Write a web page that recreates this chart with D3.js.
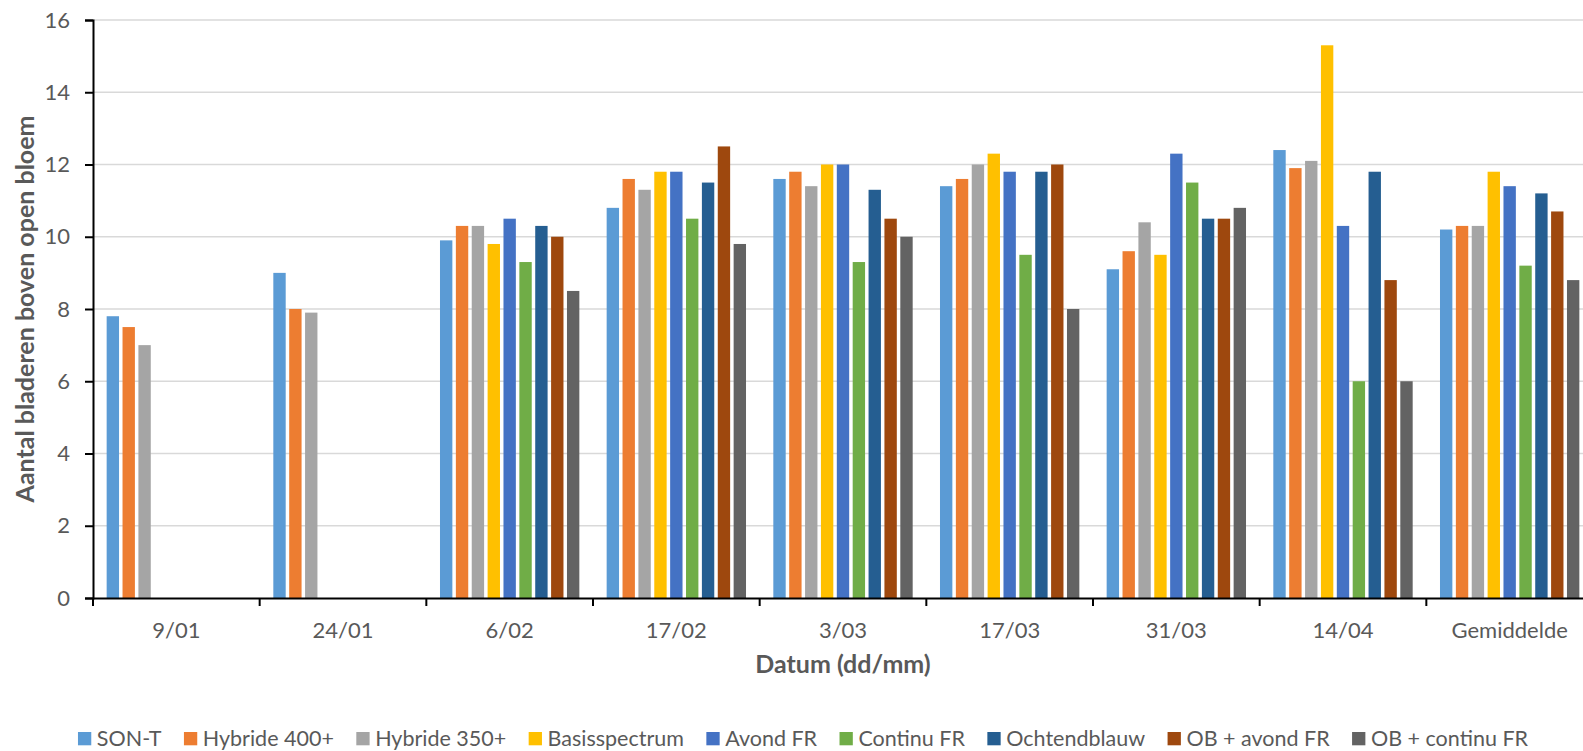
<!DOCTYPE html>
<html>
<head>
<meta charset="utf-8">
<script src="https://cdn.jsdelivr.net/npm/d3@7"></script>
<style>
  html, body { margin: 0; padding: 0; background: #fff; }
  svg { display: block; font-family: Lato, "Open Sans", sans-serif; }
</style>
</head>
<body>
<svg id="chart" width="1583" height="751"></svg>
<script>
// Categories (dates) and treatments
const categories = ["9/01", "24/01", "6/02", "17/02", "3/03", "17/03", "31/03", "14/04", "Gemiddelde"];
const seriesNames = ["SON-T", "Hybride 400+", "Hybride 350+", "Basisspectrum", "Avond FR",
                     "Continu FR", "Ochtendblauw", "OB + avond FR", "OB + continu FR"];
const seriesColors = ["#5B9BD5", "#ED7D31", "#A5A5A5", "#FFC000", "#4472C4",
                      "#70AD47", "#255E91", "#9E480E", "#636363"];

// Number of leaves above the open flower, per treatment, per date (null = no measurement)
const sonT          = [7.8, 9.0, 9.9, 10.8, 11.6, 11.4, 9.1, 12.4, 10.2];
const hybride400    = [7.5, 8.0, 10.3, 11.6, 11.8, 11.6, 9.6, 11.9, 10.3];
const hybride350    = [7.0, 7.9, 10.3, 11.3, 11.4, 12.0, 10.4, 12.1, 10.3];
const basisspectrum = [null, null, 9.8, 11.8, 12.0, 12.3, 9.5, 15.3, 11.8];
const avondFR       = [null, null, 10.5, 11.8, 12.0, 11.8, 12.3, 10.3, 11.4];
const continuFR     = [null, null, 9.3, 10.5, 9.3, 9.5, 11.5, 6.0, 9.2];
const ochtendblauw  = [null, null, 10.3, 11.5, 11.3, 11.8, 10.5, 11.8, 11.2];
const obAvondFR     = [null, null, 10.0, 12.5, 10.5, 12.0, 10.5, 8.8, 10.7];
const obContinuFR   = [null, null, 8.5, 9.8, 10.0, 8.0, 10.8, 6.0, 8.8];

const yTicks = [0, 2, 4, 6, 8, 10, 12, 14, 16];

const seriesValues = [sonT, hybride400, hybride350, basisspectrum, avondFR,
                      continuFR, ochtendblauw, obAvondFR, obContinuFR];

const svg = d3.select("#chart");
const textColor = "#595959";
const tickFont = 22;
const legendFont = 21.5;
const titleFont = 25;

const plot = { left: 93, right: 1593, top: 20, bottom: 598 };

const x0 = d3.scaleBand().domain(categories).range([plot.left, plot.right]).padding(0);
const x1 = d3.scaleBand().domain(seriesNames).range([0, x0.bandwidth()])
  .paddingInner(0).paddingOuter(0.75);
const y = d3.scaleLinear().domain([0, 16]).range([plot.bottom, plot.top]);

// Horizontal gridlines
svg.append("g")
  .selectAll("line")
  .data(yTicks.filter(t => t > 0))
  .join("line")
  .attr("x1", plot.left).attr("x2", 1583)
  .attr("y1", d => y(d)).attr("y2", d => y(d))
  .attr("stroke", "#d9d9d9").attr("stroke-width", 1.5);

// Bars
const barGap = 3.5;
const groups = svg.append("g")
  .selectAll("g")
  .data(categories)
  .join("g")
  .attr("transform", d => `translate(${x0(d)},0)`);

groups.selectAll("rect")
  .data((c, ci) => seriesNames.map((s, si) => ({ s, si, v: seriesValues[si][ci] }))
    .filter(d => d.v != null))
  .join("rect")
  .attr("x", d => x1(d.s) + barGap / 2)
  .attr("width", x1.bandwidth() - barGap)
  .attr("y", d => y(d.v))
  .attr("height", d => y(0) - y(d.v))
  .attr("fill", d => seriesColors[d.si]);

// Y axis
const yAxis = svg.append("g")
  .attr("transform", `translate(${plot.left},0)`)
  .call(d3.axisLeft(y).tickValues(yTicks).tickSize(8).tickPadding(15).tickFormat(d3.format("d")));
yAxis.select(".domain").attr("stroke", "#000").attr("stroke-width", 2);
yAxis.selectAll(".tick line").attr("stroke", "#000").attr("stroke-width", 2);
yAxis.selectAll(".tick text")
  .attr("fill", textColor).attr("font-size", tickFont).attr("font-family", "Lato, sans-serif");

// X axis
const xAxis = svg.append("g")
  .attr("transform", `translate(0,${plot.bottom})`)
  .call(d3.axisBottom(x0).tickSize(0).tickPadding(0).tickFormat(""));
xAxis.select(".domain").attr("stroke", "#000").attr("stroke-width", 2);
xAxis.selectAll(".tick").remove();

// Category boundary ticks
svg.append("g")
  .selectAll("line")
  .data(categories.concat([null]))
  .join("line")
  .attr("x1", (d, i) => plot.left + i * x0.bandwidth())
  .attr("x2", (d, i) => plot.left + i * x0.bandwidth())
  .attr("y1", plot.bottom).attr("y2", plot.bottom + 8)
  .attr("stroke", "#000").attr("stroke-width", 2);

// Category labels
svg.append("g")
  .selectAll("text")
  .data(categories)
  .join("text")
  .attr("x", d => x0(d) + x0.bandwidth() / 2)
  .attr("y", 638)
  .attr("text-anchor", "middle")
  .attr("fill", textColor)
  .attr("font-size", tickFont)
  .text(d => d);

// Axis titles
svg.append("text")
  .attr("x", 843).attr("y", 673)
  .attr("text-anchor", "middle")
  .attr("font-weight", "bold")
  .attr("font-size", titleFont)
  .attr("fill", textColor)
  .text("Datum (dd/mm)");

svg.append("text")
  .attr("transform", `translate(34,${(plot.top + plot.bottom) / 2}) rotate(-90)`)
  .attr("text-anchor", "middle")
  .attr("font-weight", "bold")
  .attr("font-size", titleFont)
  .attr("fill", textColor)
  .text("Aantal bladeren boven open bloem");

// Legend
const sw = 13.3, swGap = 5.6, itemGap = 22.4;
const legend = svg.append("g");
const items = legend.selectAll("g")
  .data(seriesNames)
  .join("g");
items.append("rect")
  .attr("width", sw).attr("height", sw)
  .attr("y", 732)
  .attr("fill", (d, i) => seriesColors[i]);
items.append("text")
  .attr("x", sw + swGap)
  .attr("y", 746)
  .attr("fill", textColor)
  .attr("font-size", legendFont)
  .text(d => d);

let widths = [];
items.each(function () {
  widths.push(sw + swGap + d3.select(this).select("text").node().getComputedTextLength());
});
const total = d3.sum(widths) + itemGap * (widths.length - 1);
let cx = 803 - total / 2;
items.each(function (d, i) {
  d3.select(this).attr("transform", `translate(${cx},0)`);
  cx += widths[i] + itemGap;
});
</script>
</body>
</html>
